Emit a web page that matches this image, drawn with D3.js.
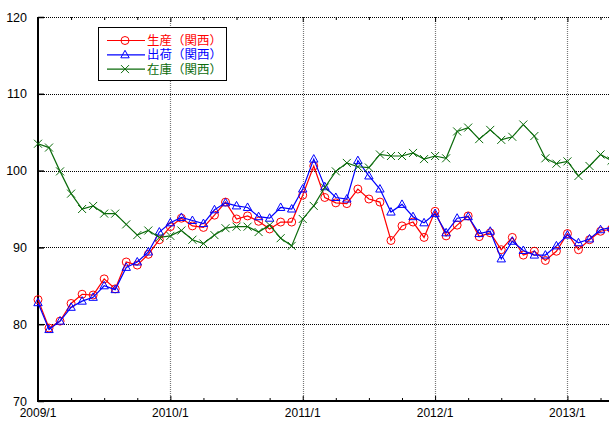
<!DOCTYPE html>
<html><head><meta charset="utf-8">
<script src="https://cdn.jsdelivr.net/npm/d3@7"></script>
<style>
html,body{margin:0;padding:0;background:#fff;overflow:hidden;}
svg{display:block;}
</style></head>
<body>
<svg id="chart" width="609" height="423"></svg>
<script>
// ---- data ----
const production = [83.2,79.5,80.4,82.7,83.9,83.8,85.9,84.6,88.1,87.7,89.1,91.0,
  92.7,93.8,92.8,92.6,94.2,95.9,93.7,94.1,93.4,92.4,93.3,93.3,
  96.8,100.6,96.5,95.8,95.7,97.6,96.3,95.9,90.9,92.8,93.3,91.3,
  94.7,91.5,92.9,94.1,91.4,91.9,89.7,91.3,89.0,89.5,88.3,89.5,
  91.8,89.7,91.0,92.1,92.4];
const shipments = [82.8,79.3,80.4,82.2,83.0,83.5,85.0,84.5,87.4,88.1,89.4,92.0,
  93.2,93.9,93.5,93.1,94.9,95.8,95.4,95.2,94.0,93.8,95.2,95.0,
  97.6,101.5,97.9,96.5,96.3,101.3,99.3,97.6,94.6,95.6,94.0,93.2,
  94.4,91.9,93.8,94.0,91.8,92.1,88.5,90.8,89.6,89.0,89.0,90.2,
  91.6,90.6,91.1,92.3,92.6];
const inventory = [103.5,103.0,99.9,97.0,95.0,95.4,94.4,94.4,93.0,91.6,92.2,91.3,
  91.5,92.2,91.0,90.5,91.6,92.5,92.7,92.7,92.0,92.9,91.2,90.2,
  93.7,95.4,97.8,99.9,101.0,100.5,100.4,102.1,101.9,101.9,102.3,101.5,
  101.9,101.6,105.1,105.6,104.1,105.3,104.0,104.4,106.0,104.5,101.6,100.9,
  101.2,99.3,100.6,102.1,101.3];
const seriesNames = ["生産（関西）","出荷（関西）","在庫（関西）"];
const yTicks = [70,80,90,100,110,120];
const yearTickLabels = ["2009/1","2010/1","2011/1","2012/1","2013/1"];
const yearTickMonths = [0,12,24,36,48];

// ---- layout ----
const svg = d3.select("#chart");
const leftX = 38, topY = 17, bottomY = 401;
const x = d3.scaleLinear().domain([0, 52]).range([leftX, leftX + 52*11.03]);
const y = d3.scaleLinear().domain([70, 120]).range([bottomY, topY]);
const rightEdge = x(54);

// grid
const g = svg.append("g");
g.selectAll("line.hg").data(yTicks.filter(v => v > 70)).enter().append("line")
  .attr("x1", leftX).attr("x2", rightEdge)
  .attr("y1", d => Math.round(y(d)) + 0.5).attr("y2", d => Math.round(y(d)) + 0.5)
  .attr("stroke", "#000").attr("stroke-width", 1).attr("stroke-dasharray", "1,1");
g.selectAll("line.vg").data(yearTickMonths.slice(1)).enter().append("line")
  .attr("x1", d => Math.round(x(d)) + 0.5).attr("x2", d => Math.round(x(d)) + 0.5)
  .attr("y1", topY).attr("y2", bottomY)
  .attr("stroke", "#777").attr("stroke-width", 1.2).attr("stroke-dasharray", "1,1");

// axes
const quarterTicks = d3.range(0, 54, 3);
const xb = d3.axisBottom(x).tickValues(quarterTicks).tickSize(-3).tickFormat("");
const axB = svg.append("g").attr("transform", `translate(0,${bottomY})`).call(xb);
const xt = d3.axisTop(x).tickValues(quarterTicks).tickSize(-3).tickFormat("");
const axT = svg.append("g").attr("transform", `translate(0,${topY})`).call(xt);
[axB, axT].forEach(a => { a.select(".domain").remove(); a.selectAll("line").attr("stroke", "#000"); });
axB.selectAll(".tick line").attr("y2", d => d % 12 === 0 ? -5 : -3);
axT.selectAll(".tick line").attr("y2", d => d % 12 === 0 ? 5 : 3);
svg.append("line").attr("x1", leftX).attr("x2", rightEdge).attr("y1", bottomY).attr("y2", bottomY)
  .attr("stroke", "#000").attr("stroke-width", 2);
svg.append("line").attr("x1", leftX).attr("x2", leftX).attr("y1", topY).attr("y2", bottomY + 1)
  .attr("stroke", "#000").attr("stroke-width", 2);

const ya = d3.axisLeft(y).tickValues(yTicks).tickSize(-6).tickPadding(10);
const axL = svg.append("g").attr("transform", `translate(${leftX},0)`).call(ya);
axL.select(".domain").remove();
axL.selectAll("line").attr("stroke", "#000").attr("stroke-width", 1.5);
axL.selectAll("text").attr("font-family", "Liberation Sans, Arial, sans-serif")
  .attr("font-size", "12.5px").attr("fill", "#000").attr("x", -11);

svg.selectAll("text.xl").data(yearTickMonths).enter().append("text")
  .attr("x", d => x(d)).attr("y", 417).attr("text-anchor", "middle")
  .attr("font-family", "Liberation Sans, Arial, sans-serif").attr("font-size", "12px")
  .text((d, i) => yearTickLabels[i]);

// series
const plot = svg.append("g");
const line = d3.line().x((d, i) => x(i)).y(d => y(d));
const series = [
  {vals: production, color: "#ff0000", mark: "circle"},
  {vals: shipments, color: "#0000ff", mark: "tri"},
  {vals: inventory, color: "#0b6b0b", mark: "x"}
];
function drawMarker(sel, type, color) {
  if (type === "circle") {
    sel.append("circle").attr("r", 4).attr("fill", "none").attr("stroke", color).attr("stroke-width", 1);
  } else if (type === "tri") {
    sel.append("path").attr("d", "M0,-4.5L4.2,3L-4.2,3Z").attr("fill", "none").attr("stroke", color).attr("stroke-width", 1);
  } else {
    sel.append("path").attr("d", "M-4,-4L4,4M-4,4L4,-4").attr("stroke", color).attr("stroke-width", 1);
  }
}
series.forEach(s => {
  plot.append("path").datum(s.vals).attr("d", line).attr("fill", "none")
    .attr("stroke", s.color).attr("stroke-width", 1.2);
  const m = plot.selectAll(null).data(s.vals).enter().append("g")
    .attr("transform", (d, i) => `translate(${x(i)},${y(d)})`);
  drawMarker(m, s.mark, s.color);
});

// legend
const lg = svg.append("g");
lg.append("rect").attr("x", 98.5).attr("y", 27.5).attr("width", 128).attr("height", 53)
  .attr("fill", "#fff").attr("stroke", "#000").attr("stroke-width", 1);
series.forEach((s, i) => {
  const yy = 40.5 + i * 14.3;
  lg.append("line").attr("x1", 107).attr("x2", 145).attr("y1", yy).attr("y2", yy)
    .attr("stroke", s.color).attr("stroke-width", 1.2);
  const mg = lg.append("g").attr("transform", `translate(125,${yy})`);
  drawMarker(mg, s.mark, s.color);
  lg.append("text").attr("x", 147).attr("y", yy + 4.5).attr("fill", s.color)
    .attr("font-family", "Liberation Sans, Noto Sans CJK JP, sans-serif").attr("font-size", "12px")
    .attr("textLength", 75).attr("lengthAdjust", "spacingAndGlyphs")
    .text(seriesNames[i]);
});
</script>
</body></html>
